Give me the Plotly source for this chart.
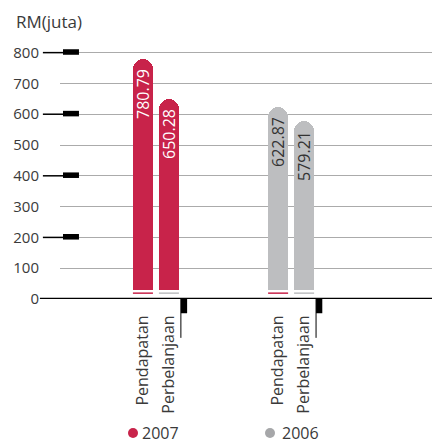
import plotly.graph_objects as go

# data
kategori = ["Pendapatan", "Perbelanjaan"]
tahun = ["2007", "2006"]
nilai_2007 = [780.79, 650.28]
nilai_2006 = [622.87, 579.21]
warna = {"2007": "#C8234A", "2006": "#BDBEC0"}
warna_teks = {"2007": "white", "2006": "#333333"}
warna_legend = {"2007": "#C8234A", "2006": "#A6A7A9"}
y_ticks = [0, 100, 200, 300, 400, 500, 600, 700, 800]

dasar = 29       # bars visually start slightly above the axis line
jarak = 5.2      # gap between the two year groups
lebar = 0.77

fig = go.Figure()

semua_x = []
semua_label = []
for g, (thn, nilai) in enumerate(zip(tahun, [nilai_2007, nilai_2006])):
    xs = [g * jarak + i for i in range(len(kategori))]
    semua_x += xs
    semua_label += kategori
    fig.add_trace(go.Bar(
        x=xs, y=nilai, width=lebar, name=thn,
        text=nilai, texttemplate="%{text:.2f}", textposition="inside",
        insidetextanchor="end", textangle=-90, constraintext="none",
        insidetextfont=dict(color=warna_teks[thn], size=16, family="Open Sans"),
        marker=dict(color=warna[thn], cornerradius=10, line_width=0),
        showlegend=False, hoverinfo="skip",
    ))

# white band hiding the bottom of the bars
fig.add_shape(type="rect", xref="paper", x0=0, x1=1, y0=0, y1=dasar,
              fillcolor="white", line_width=0)

leg_y = (299 - 433) / 259
for g, thn in enumerate(tahun):
    xs = [g * jarak + i for i in range(len(kategori))]
    # thin underline under each bar
    for i, x in enumerate(xs):
        fig.add_shape(type="line", x0=x - lebar / 2, x1=x + lebar / 2, y0=19, y1=19,
                      line=dict(color="#C8234A" if i == 0 else "#BDBEC0", width=1.5))
    # black mark below axis at end of group
    xe = g * jarak + 1.46
    fig.add_shape(type="rect", x0=xe, x1=xe + 0.24, y0=0, y1=-0.055, yref="paper",
                  fillcolor="black", line_width=0)
    fig.add_shape(type="line", x0=xe, x1=xe, y0=0, y1=-0.15, yref="paper",
                  line=dict(color="black", width=1))
    # legend-like dot and label
    cx = (133 + g * 137 - 60) / 372
    fig.add_shape(type="circle", xref="paper", yref="paper",
                  xsizemode="pixel", ysizemode="pixel", xanchor=cx, yanchor=leg_y,
                  x0=-5, x1=5, y0=-5, y1=5,
                  fillcolor=warna_legend[thn], line_width=0)
    fig.add_annotation(
        text=thn, xref="paper", yref="paper", x=cx + (7 + g * 3) / 372, y=leg_y,
        xanchor="left", yanchor="middle", showarrow=False, font=dict(size=16),
    )

# black marks on the y axis every 200
for v in y_ticks[2::2]:
    fig.add_shape(type="line", xref="paper", x0=-0.046, x1=0.01, y0=v, y1=v,
                  line=dict(color="black", width=1.5))
    fig.add_shape(type="rect", xref="paper", x0=0.008, x1=0.051, y0=v - 7, y1=v + 11,
                  fillcolor="black", line_width=0)

# zero line
fig.add_shape(type="line", xref="paper", x0=-0.054, x1=1, y0=0, y1=0,
              line=dict(color="black", width=2.5))

fig.update_layout(
    width=432, height=442,
    margin=dict(l=60, r=0, t=40, b=143, autoexpand=False),
    plot_bgcolor="white", paper_bgcolor="white",
    font=dict(family="Open Sans", size=15, color="#3a3a3a"),
    title=dict(text="RM(juta)", x=16 / 432, xanchor="left", y=1 - 22 / 442, yanchor="middle",
               pad=dict(l=0, r=0, t=0, b=0), font=dict(size=17, color="#3a3a3a")),
    xaxis=dict(range=[-3.19, 11.12], tickvals=semua_x, ticktext=semua_label,
               tickangle=-90, ticks="outside", ticklen=9, tickcolor="rgba(0,0,0,0)",
               tickfont=dict(size=16), showgrid=False, zeroline=False, showline=False,
               automargin=False),
    yaxis=dict(range=[0, 841], tickvals=y_ticks, ticks="outside", ticklen=17,
               tickcolor="rgba(0,0,0,0)", showgrid=True, gridcolor="#ABABAB", gridwidth=1,
               zeroline=False, showline=False, automargin=False),
    showlegend=False,
    uniformtext=dict(mode="show", minsize=16),
    bargap=0,
)

# no default body margin, so the figure sits at the window's corner
fig.write_html("out.html", config={"displayModeBar": False},
               post_script="document.body.style.margin='0';")
